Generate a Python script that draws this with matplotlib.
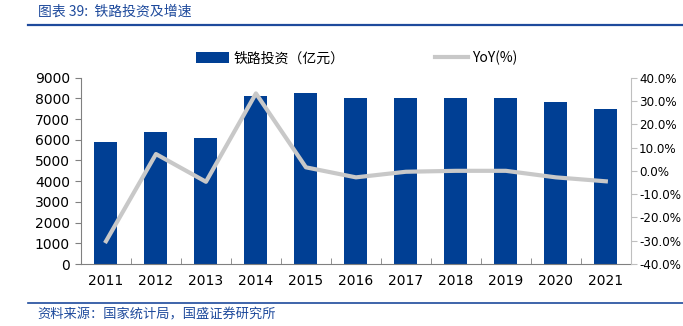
import matplotlib
matplotlib.use("Agg")
import matplotlib.pyplot as plt
from matplotlib.ticker import FuncFormatter

plt.rcParams['font.family'] = ['Noto Sans CJK SC', 'DejaVu Sans']

# data
years = ['2011', '2012', '2013', '2014', '2015', '2016',
         '2017', '2018', '2019', '2020', '2021']
invest = [5906, 6356, 6066, 8108, 8238, 8015, 8010, 8028, 8029, 7819, 7489]
yoy = [-30.2, 7.2, -4.7, 33.2, 1.5, -2.8, -0.4, 0.0, 0.0, -2.8, -4.5]

BLUE = '#003f94'
GRAY = '#c8c8c8'
AXC = '#808080'
TXT = '#1e4a9c'


def main():
    fig = plt.figure(figsize=(6.83, 3.26), dpi=100)
    ax = fig.add_axes([0.1186, 0.19, 0.805, 0.572])
    ax2 = ax.twinx()

    x = list(range(len(years)))
    ax.bar(x, invest, width=0.46, color=BLUE, label='铁路投资（亿元）', zorder=2)
    ax2.plot(x, yoy, color=GRAY, lw=3, label='YoY(%)', zorder=3)

    ax.set_xlim(-0.5, len(years) - 0.5)
    ax.set_ylim(0, 9000)
    ax.set_yticks(range(0, 9001, 1000))
    ax2.set_ylim(-40, 40)
    ax2.set_yticks(range(-40, 41, 10))
    ax2.yaxis.set_major_formatter(FuncFormatter(lambda v, p: '%.1f%%' % v))

    ax.set_xticks(x)
    ax.set_xticklabels(years)
    ax.set_xticks([i + 0.5 for i in range(-1, len(years))], minor=True)
    ax.tick_params(axis='x', which='major', length=0, pad=7)
    ax.tick_params(axis='x', which='minor', length=4, color=AXC, direction='in')

    for a in (ax, ax2):
        for s in a.spines.values():
            s.set_visible(False)
        a.tick_params(labelsize=10, labelcolor='black')
    ax.spines['left'].set_visible(True)
    ax.spines['bottom'].set_visible(True)
    ax.spines['left'].set_color(AXC)
    ax.spines['bottom'].set_color(AXC)
    ax2.spines['right'].set_visible(True)
    ax2.spines['right'].set_color('#bfbfbf')
    ax.tick_params(axis='y', length=4, color=AXC, pad=4)
    ax2.tick_params(axis='y', length=4, color='#bfbfbf', pad=2, labelsize=8.6)
    for t in ax2.get_yticklabels() + ax.get_yticklabels() + ax.get_xticklabels():
        t.set_family('DejaVu Sans')

    # legend
    h1, l1 = ax.get_legend_handles_labels()
    h2, l2 = ax2.get_legend_handles_labels()
    fig.legend(h1 + h2, l1 + l2, loc='center', bbox_to_anchor=(0.522, 0.822),
               ncol=2, frameon=False, fontsize=10, columnspacing=6.5,
               handlelength=2.4, handleheight=0.9, handletextpad=0.3)

    # header / footer
    fig.text(0.055, 0.963, '图表 39:  铁路投资及增速', color=TXT, fontsize=10,
             va='center', ha='left', style='italic')
    fig.add_artist(plt.Line2D([0.041, 1.0], [0.923, 0.923], color=TXT, lw=1.6))
    fig.add_artist(plt.Line2D([0.041, 1.0], [0.07, 0.07], color=TXT, lw=1.2))
    fig.text(0.055, 0.035, '资料来源：国家统计局，国盛证券研究所', color=TXT,
             fontsize=9.5, va='center', ha='left', style='italic')

    fig.savefig('out.png', dpi=100)


if __name__ == '__main__':
    main()
